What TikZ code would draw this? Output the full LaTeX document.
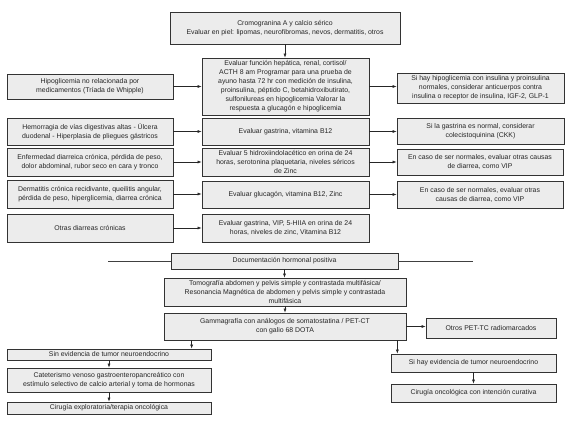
\documentclass[tikz,border=0pt]{standalone}
\usepackage{fontspec}
\setmainfont{Liberation Sans}
\usetikzlibrary{arrows.meta,calc}
\tikzset{
  box/.style={draw=black!80, line width=0.7pt, fill=gray!15, align=center, inner sep=1pt,
    font=\fontsize{6.9}{9}\selectfont, text=black!85},
  arr/.style={draw=black!85, line width=0.6pt, -{Latex[length=4pt,width=3pt]}},
  ln/.style={draw=black!75, line width=0.6pt}
}
\newcommand\mybox[6]{\node[box, minimum width={(#4-#2)*1pt}, minimum height={(#5-#3)*1pt}] (#1) at ({(#2+#4)/2},{(#3+#5)/2}) {#6};}
\begin{document}
\begin{tikzpicture}[x=1pt,y=-1pt]
\useasboundingbox[fill=white] (0,0) rectangle (567,422);
\mybox{top}{170}{12}{400}{44}{Cromogranina A y calcio sérico\\Evaluar en piel: lipomas, neurofibromas, nevos, dermatitis, otros}
\mybox{mid2}{202}{58}{369}{115}{Evaluar función hepática, renal, cortisol/\\ACTH 8 am Programar para una prueba de\\ayuno hasta 72 hr con medición de insulina,\\proinsulina, péptido C, betahidroxibutirato,\\sulfonilureas en hipoglicemia Valorar la\\respuesta a glucagón e hipoglicemia}
\mybox{L2}{7}{74}{173}{99}{Hipoglicemia no relacionada por\\medicamentos (Tríada de Whipple)}
\mybox{R2}{397}{73}{564}{103}{Si hay hipoglicemia con insulina y proinsulina\\normales, considerar anticuerpos contra\\insulina o receptor de insulina, IGF-2, GLP-1}
\mybox{L3}{7}{118}{173}{145}{Hemorragia de vías digestivas altas - Úlcera\\duodenal - Hiperplasia de pliegues gástricos}
\mybox{mid3}{202}{118}{369}{145}{Evaluar gastrina, vitamina B12}
\mybox{R3}{397}{118}{564}{144}{Si la gastrina es normal, considerar\\colecistoquinina (CKK)}
\mybox{L4}{7}{148}{173}{176}{Enfermedad diarreica crónica, pérdida de peso,\\dolor abdominal, rubor seco en cara y tronco}
\mybox{mid4}{202}{148}{369}{176}{Evaluar 5 hidroxiindolacético en orina de 24\\horas, serotonina plaquetaria, niveles séricos\\de Zinc}
\mybox{R4}{397}{149}{563}{175}{En caso de ser normales, evaluar otras causas\\de diarrea, como VIP}
\mybox{L5}{7}{180}{173}{208}{Dermatitis crónica recidivante, queilitis angular,\\pérdida de peso, hiperglicemia, diarrea crónica}
\mybox{mid5}{202}{181}{369}{208}{Evaluar glucagón, vitamina B12, Zinc}
\mybox{R5}{397}{181}{563}{208}{En caso de ser normales, evaluar otras\\causas de diarrea, como VIP}
\mybox{L6}{7}{214}{173}{242}{Otras diarreas crónicas}
\mybox{mid6}{202}{214}{369}{242}{Evaluar gastrina, VIP, 5-HIIA en orina de 24\\horas, niveles de zinc, Vitamina B12}
\mybox{doc}{171}{253}{398}{269}{Documentación hormonal positiva}
\mybox{tomo}{164}{278}{406}{306}{Tomografía abdomen y pelvis simple y contrastada multifásica/\\Resonancia Magnética de abdomen y pelvis simple y contrastada\\multifásica}
\mybox{gamma}{164}{313}{406}{340}{Gammagrafía con análogos de somatostatina / PET-CT\\con galio 68 DOTA}
\mybox{otros}{426}{318}{556}{338}{Otros PET-TC radiomarcados}
\mybox{sin}{7}{349}{211}{360}{Sin evidencia de tumor neuroendocrino}
\mybox{cat}{7}{368}{211}{392}{Cateterismo venoso gastroenteropancreático con\\estímulo selectivo de calcio arterial y toma de hormonas}
\mybox{cirE}{7}{402}{211}{414}{Cirugía exploratoria/terapia oncológica}
\mybox{sihay}{391}{354}{556}{372}{Si hay evidencia de tumor neuroendocrino}
\mybox{cirO}{391}{384}{556}{402}{Cirugía oncológica con intención curativa}
\coordinate (dl) at (108,261);
\coordinate (dr) at (473,261);
% arrows
\draw[arr] (top.south) -- (top.south |- mid2.north);
\foreach \r in {2,3,4,5,6}{
  \draw[arr] (L\r.east) -- (L\r.east -| mid\r.west);
}
\foreach \r in {2,3,4,5}{
  \draw[arr] (mid\r.east) -- (mid\r.east -| R\r.west);
}
\draw[ln] (doc.west) -- (doc.west -| dl);
\draw[ln] (doc.east) -- (doc.east -| dr);
\draw[arr] (doc.south) -- (doc.south |- tomo.north);
\draw[arr] (tomo.south) -- (tomo.south |- gamma.north);
\draw[arr] (gamma.east) -- (gamma.east -| otros.west);
\draw[arr] ([xshift=28pt]gamma.south west) -- ([xshift=28pt]gamma.south west |- sin.north);
\draw[arr] ([xshift=-9pt]gamma.south east) -- ([xshift=-9pt]gamma.south east |- sihay.north);
\draw[arr] (sihay.south) -- (cirO.north);
\draw[arr] (sin.south) -- (cat.north);
\draw[arr] (cat.south) -- (cirE.north);
\end{tikzpicture}
\end{document}
